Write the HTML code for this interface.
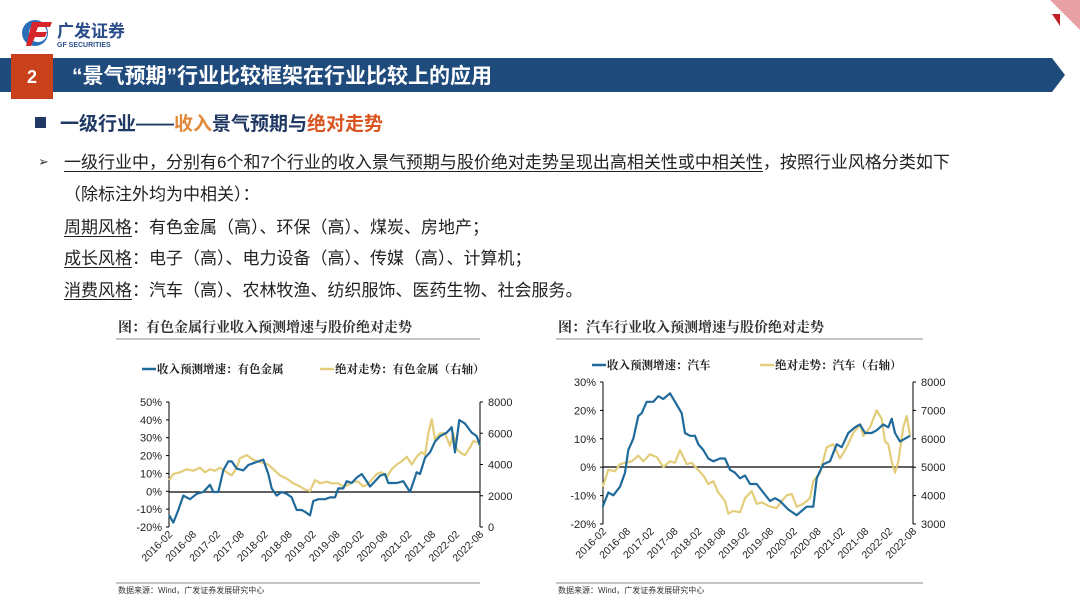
<!DOCTYPE html>
<html><head><meta charset="utf-8">
<style>
body{margin:0;width:1080px;height:608px;background:#fff;overflow:hidden;position:relative;font-family:"Liberation Sans","Noto Sans CJK SC",sans-serif;}
.abs{position:absolute;white-space:nowrap;}
.t{font-size:17px;color:#222;}
u{text-decoration:underline;text-underline-offset:3px;}
</style></head><body>
<svg class="abs" style="left:0;top:0" width="1080" height="608">
  <circle cx="35" cy="33" r="13" fill="#2a6fb8"/>
  <circle cx="38" cy="33" r="9" fill="#fff"/>
  <path d="M32 22 L52 22 L50 27 L38 27 L36 32 L47 32 L45 37 L35 37 L31 46 L26 46 Z" fill="#d7262b"/>
  <text x="57" y="37" font-size="17" font-weight="bold" fill="#2a4d8a" font-family="Liberation Sans,Noto Sans CJK SC,sans-serif">广发证券</text>
  <text x="57" y="47" font-size="7" font-weight="bold" fill="#2a4d8a" font-family="Liberation Sans,sans-serif">GF SECURITIES</text>
  <path d="M1050 0 L1080 0 L1080 30 Z" fill="#e8a0a4"/>
  <path d="M1052 14 L1060 14 L1060 26 Z" fill="#c0202a"/>
  <path d="M0 58 L1052 58 L1065 75 L1052 92 L0 92 Z" fill="#1f4a7c"/>
  <rect x="11" y="54" width="42" height="45" fill="#c8411b"/>
  <text x="32" y="83" font-size="18" font-weight="bold" fill="#fff" text-anchor="middle" font-family="Liberation Sans,sans-serif">2</text>
  <text x="72" y="83" font-size="21" font-weight="bold" fill="#fff" font-family="Liberation Sans,Noto Sans CJK SC,sans-serif">“景气预期”行业比较框架在行业比较上的应用</text>
  <rect x="35" y="117" width="11" height="11" fill="#1f3864"/>
  <text x="60" y="130" font-size="19" font-weight="bold" fill="#1f3864" font-family="Liberation Sans,Noto Sans CJK SC,sans-serif">一级行业——<tspan fill="#e08a3a">收入</tspan>景气预期与<tspan fill="#d9531e">绝对走势</tspan></text>
  <text x="38" y="166" font-size="13" fill="#333">➢</text>
</svg>
<div class="abs t" style="left:64px;top:148px"><u>一级行业中，分别有6个和7个行业的收入景气预期与股价绝对走势呈现出高相关性或中相关性</u>，按照行业风格分类如下</div>
<div class="abs t" style="left:64px;top:180px">（除标注外均为中相关）：</div>
<div class="abs t" style="left:64px;top:213px"><u>周期风格</u>：有色金属（高）、环保（高）、煤炭、房地产；</div>
<div class="abs t" style="left:64px;top:244px"><u>成长风格</u>：电子（高）、电力设备（高）、传媒（高）、计算机；</div>
<div class="abs t" style="left:64px;top:276px"><u>消费风格</u>：汽车（高）、农林牧渔、纺织服饰、医药生物、社会服务。</div>

<svg id="c" class="abs" style="left:0;top:0" width="1080" height="608" font-family="Liberation Sans,Noto Sans CJK SC,sans-serif"></svg>
<script>
var s='';
function T(x,y,t,o){s+='<text x="'+x+'" y="'+y+'" '+(o||'')+'>'+t+'</text>';}
function L(x1,y1,x2,y2,c,w){s+='<line x1="'+x1+'" y1="'+y1+'" x2="'+x2+'" y2="'+y2+'" stroke="'+(c||'#000')+'" stroke-width="'+(w||1)+'"/>';}
function P(pts,c){s+='<polyline fill="none" stroke="'+c+'" stroke-width="2.2" stroke-linejoin="round" points="'+pts.join(' ')+'"/>';}
var B='#1f6a9a',Y='#e3cd7a';
var labs=['2016-02','2016-08','2017-02','2017-08','2018-02','2018-08','2019-02','2019-08','2020-02','2020-08','2021-02','2021-08','2022-02','2022-08'];
function chart(o){
  T(o.tx,332,o.title,'font-size="14" font-weight="bold" fill="#333" font-family="Noto Serif CJK SC,serif"');
  L(o.tx-2,339,o.tx+o.tw,339,'#888',1);
  L(o.tx-2,583,o.tx+o.tw,583,'#888',1);
  T(o.tx,593,'数据来源：Wind，广发证券发展研究中心','font-size="8" fill="#333"');
  L(o.lg[0],o.lg[2],o.lg[0]+14,o.lg[2],B,2.5);T(o.lg[0]+15,o.lg[2]+4,o.l1,'font-size="11.5" font-weight="bold" fill="#222" font-family="Noto Serif CJK SC,serif"');
  L(o.lg[1],o.lg[2],o.lg[1]+14,o.lg[2],Y,2.5);T(o.lg[1]+15,o.lg[2]+4,o.l2,'font-size="11.5" font-weight="bold" fill="#222" font-family="Noto Serif CJK SC,serif"');
  L(o.x0,o.yt,o.x0,o.yb,'#000',1);L(o.x1,o.yt,o.x1,o.yb,'#000',1);
  L(o.x0,o.yz,o.x1,o.yz,'#000',1.2);
  o.lt.forEach(function(v,i){var y=o.yt+(o.yb-o.yt)*i/(o.lt.length-1);L(o.x0-3,y,o.x0,y);
    T(o.x0-7,y+4,v,'font-size="11" fill="#222" text-anchor="end"');});
  o.rt.forEach(function(v,i){var y=o.yt+(o.yb-o.yt)*i/(o.rt.length-1);L(o.x1,y,o.x1+3,y);
    T(o.x1+8,y+4,v,'font-size="11" fill="#222"');});
  labs.forEach(function(l,i){var x=o.x0+(o.x1-o.x0)*i/13;T(x+4,o.yb+8,l,'font-size="10.5" fill="#222" text-anchor="end" transform="rotate(-45 '+(x+4)+' '+(o.yb+8)+')"');});
  P(o.y.map(function(p){return (o.ox+p[0]/3).toFixed(1)+','+o.fy(p[1]).toFixed(1)}),Y);
  P(o.b.map(function(p){return (o.ox+p[0]/3).toFixed(1)+','+o.fb(p[1]).toFixed(1)}),B);
}
chart({tx:118,tw:362,title:'图：有色金属行业收入预测增速与股价绝对走势',l1:'收入预测增速：有色金属',l2:'绝对走势：有色金属（右轴）',lg:[142,320,369],
 x0:169,x1:480,yt:402,yb:527,yz:492,ox:100,lt:['50%','40%','30%','20%','10%','0%','-10%','-20%'],rt:['8000','6000','4000','2000','0'],
 fb:function(v){return 492-1.8*v},fy:function(v){return 527-v*0.015625},
 b:[[208,-13],[220,-17],[235,-10],[250,-2],[270,-4],[290,-1],[310,0],[330,4],[340,0],[355,0],[370,12],[385,17],[395,17],[410,13],[430,12],[445,15],[460,16],[475,17],[490,18],[505,10],[515,2],[530,-2],[545,0],[560,-1],[575,-3],[590,-10],[605,-10],[615,-11],[630,-13],[640,-5],[655,-4],[675,-4],[690,-3],[705,-3],[715,2],[730,2],[740,6],[755,5],[770,8],[785,10],[800,6],[810,3],[825,6],[840,9],[855,10],[865,5],[890,5],[910,6],[930,0],[950,11],[960,10],[975,19],[990,22],[1005,28],[1020,31],[1040,33],[1055,36],[1065,22],[1078,40],[1095,38],[1115,33],[1130,31],[1140,26]],
 y:[[208,3000],[220,3400],[240,3500],[260,3700],[280,3600],[300,3800],[315,3500],[330,3700],[345,3600],[360,3800],[380,3500],[395,3300],[410,3800],[420,4400],[440,4600],[460,4300],[475,4200],[490,4100],[505,4000],[520,3700],[540,3300],[560,3100],[580,2800],[600,2600],[615,2400],[630,2300],[645,3000],[660,2800],[680,2900],[695,2800],[715,2800],[730,2600],[745,2700],[760,2900],[775,2900],[790,2600],[800,2700],[810,2900],[830,3400],[845,3500],[860,3200],[875,3700],[890,4000],[905,4200],[920,4500],[935,4000],[950,4500],[965,4800],[975,4600],[985,6000],[995,6900],[1005,5600],[1020,6000],[1035,6000],[1050,5200],[1060,6000],[1070,5000],[1085,4700],[1095,4600],[1110,5100],[1120,5500],[1135,5400],[1140,5200]]});
chart({tx:558,tw:365,title:'图：汽车行业收入预测增速与股价绝对走势',l1:'收入预测增速：汽车',l2:'绝对走势：汽车（右轴）',lg:[592,760,365],
 x0:603,x1:913,yt:382,yb:524,yz:467,ox:540,lt:['30%','20%','10%','0%','-10%','-20%'],rt:['8000','7000','6000','5000','4000','3000'],
 fb:function(v){return 467-2.833*v},fy:function(v){return 467-(v-5000)*0.02833},
 b:[[188,-14],[205,-9],[220,-10],[240,-7],[255,-2],[265,6],[280,10],[295,18],[305,19],[320,23],[340,23],[355,25],[370,24],[390,26],[410,22],[425,19],[435,12],[450,11],[465,11],[475,8],[490,6],[505,3],[520,2],[540,3],[555,3],[570,-1],[585,-2],[600,-4],[615,-3],[630,-6],[650,-6],[670,-9],[690,-12],[705,-11],[720,-12],[745,-15],[770,-17],[790,-15],[800,-14],[820,-14],[830,-4],[850,1],[870,2],[890,8],[905,7],[925,12],[945,14],[960,15],[975,12],[995,12],[1010,13],[1030,15],[1045,14],[1055,17],[1065,12],[1080,9],[1095,10],[1110,11]],
 y:[[188,4300],[205,4900],[225,4850],[240,5100],[255,5150],[275,5200],[295,5400],[310,5200],[330,5450],[350,5350],[370,5000],[390,5200],[405,5150],[420,5600],[440,5100],[455,5150],[470,4950],[490,4700],[505,4400],[520,4500],[535,4100],[555,3800],[565,3350],[580,3450],[600,3400],[615,3900],[635,4150],[650,3700],[665,3750],[690,3600],[710,3550],[725,3800],[740,4000],[755,4050],[770,3600],[790,3700],[810,3900],[820,4500],[840,4800],[860,5700],[880,5800],[900,5300],[920,5700],[940,6200],[960,6500],[970,6100],[990,6400],[1010,7000],[1025,6700],[1035,5900],[1045,5800],[1055,5200],[1065,4800],[1075,5200],[1090,6400],[1100,6800],[1110,6100]]});
document.getElementById('c').innerHTML=s;
</script>
</body></html>
